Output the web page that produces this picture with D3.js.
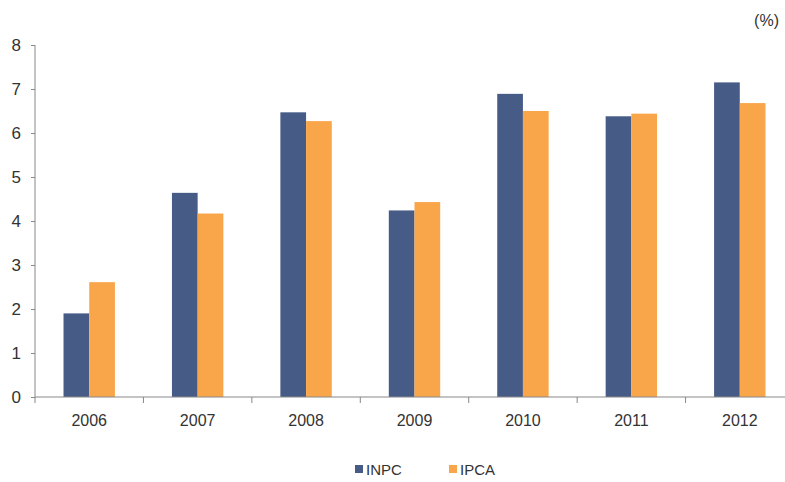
<!DOCTYPE html>
<html>
<head>
<meta charset="utf-8">
<script src="https://cdn.jsdelivr.net/npm/d3@7"></script>
<style>
  body { margin: 0; background: #fff; }
  text { font-family: "Liberation Sans", Arial, sans-serif; fill: #333; }
</style>
</head>
<body>
<div id="chart"></div>
<script>
//data
let years = ["2006", "2007", "2008", "2009", "2010", "2011", "2012"];
let inpc = [1.90, 4.64, 6.47, 4.24, 6.89, 6.38, 7.15];
let ipca = [2.61, 4.17, 6.27, 4.43, 6.50, 6.44, 6.68];
let seriesNames = ["INPC", "IPCA"];
let seriesColors = ["#465c87", "#f9a54a"];
let yTicks = [0, 1, 2, 3, 4, 5, 6, 7, 8];

let width = 785, height = 482;
let plotLeft = 35, plotRight = 794, plotTop = 45, plotBottom = 397;

var svg = d3.select("#chart")
        .append("svg")
        .attr("width", width)
        .attr("height", height);

let x = d3.scaleBand().domain(years).range([plotLeft, plotRight]);
let xInner = d3.scaleBand().domain(seriesNames).range([0, 51.4]);
let y = d3.scaleLinear().domain([0, 8]).range([plotBottom, plotTop]);
let offset = (x.bandwidth() - xInner.range()[1]) / 2;

//bars
let series = [inpc, ipca];
series.forEach(function(values, s){
  svg.append("g")
    .selectAll("rect")
    .data(values)
    .enter()
    .append("rect")
    .attr("x", (d, i) => x(years[i]) + offset + xInner(seriesNames[s]))
    .attr("y", d => y(d))
    .attr("width", xInner.bandwidth())
    .attr("height", d => y(0) - y(d))
    .attr("fill", seriesColors[s]);
});

//y axis
let yAxis = svg.append("g")
  .attr("transform", "translate(" + plotLeft + ",0)")
  .call(d3.axisLeft(y).tickValues(yTicks).tickFormat(d3.format("d")).tickSize(4).tickPadding(10));
yAxis.select(".domain").attr("stroke", "#888").attr("d", "M0," + plotTop + "V" + plotBottom);
yAxis.selectAll(".tick line").attr("stroke", "#888");
yAxis.selectAll(".tick text").style("font-size", "17px").attr("fill", "#333");

//x axis, ticks at category boundaries
let xAxis = svg.append("g")
  .attr("transform", "translate(0," + plotBottom + ")");
xAxis.append("line")
  .attr("x1", plotLeft).attr("x2", plotRight)
  .attr("stroke", "#888");
let bounds = years.map(d => x(d)).concat([plotRight]);
xAxis.selectAll(".bound")
  .data(bounds)
  .enter()
  .append("line")
  .attr("x1", d => d).attr("x2", d => d)
  .attr("y1", 0).attr("y2", 6)
  .attr("stroke", "#888");
xAxis.selectAll(".lbl")
  .data(years)
  .enter()
  .append("text")
  .attr("x", d => x(d) + x.bandwidth() / 2)
  .attr("y", 29)
  .style("text-anchor", "middle")
  .style("font-size", "16px")
  .text(d => d);

//unit label
svg.append("text")
  .attr("x", 779)
  .attr("y", 26)
  .style("text-anchor", "end")
  .style("font-size", "16px")
  .text("(%)");

//legend
let legendX = [355, 449];
seriesNames.forEach(function(name, s){
  svg.append("rect")
    .attr("x", legendX[s])
    .attr("y", 465)
    .attr("width", 8)
    .attr("height", 8)
    .attr("fill", seriesColors[s]);
  svg.append("text")
    .attr("x", legendX[s] + 11)
    .attr("y", 475)
    .style("font-size", "15px")
    .text(name);
});
</script>
</body>
</html>
